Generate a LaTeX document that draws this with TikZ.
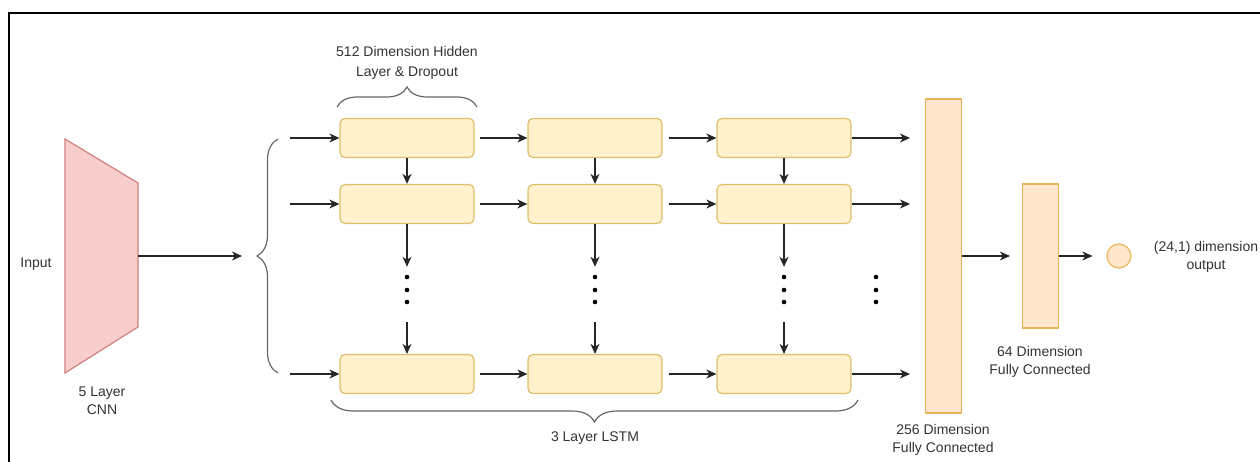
\documentclass[tikz,border=0pt]{standalone}
\usepackage{fontspec}
\setmainfont{Liberation Sans}
\usetikzlibrary{arrows.meta,positioning,decorations.pathreplacing}
\definecolor{cellfill}{HTML}{FFF2CC}
\definecolor{celldraw}{HTML}{DDBE6A}
\definecolor{fcfill}{HTML}{FFE6CC}
\definecolor{fcdraw}{HTML}{E8B455}
\definecolor{cnnfill}{HTML}{F8CECC}
\definecolor{cnndraw}{HTML}{D08080}
\definecolor{txt}{HTML}{333333}

\tikzset{
  lstmcell/.style={draw=celldraw,fill=cellfill,rounded corners=5pt,line width=1.2pt,minimum width=134pt,minimum height=39pt,inner sep=0pt},
  fcbox/.style={draw=fcdraw,fill=fcfill,line width=1.2pt,minimum width=36pt,inner sep=0pt},
  lbl/.style={text=txt,font=\fontsize{14}{18}\selectfont,align=center,inner sep=0pt},
  flow/.style={-{Stealth[length=10pt,width=9pt,inset=3pt]},line width=1.2pt,draw=black!85},
  curly/.style={decorate,decoration={brace,amplitude=#1},draw=black!60,line width=1.2pt},
  dotstack/.style={minimum width=4pt,minimum height=55pt,inner sep=0pt}
}

\begin{document}
\begin{tikzpicture}[x=1pt,y=-1pt]
  \useasboundingbox (0,0) rectangle (1260,462);
  \draw[line width=2pt] (9,462) -- (9,13) -- (1260,13);

  % cnn part
  \draw[draw=cnndraw,fill=cnnfill,line width=1.2pt] (65,139) -- (138,183) -- (138,327) -- (65,373) -- cycle;
  \coordinate (cnnout) at (138,256);
  \coordinate (split) at (242,256);
  \node[lbl] (input) at (36,264) {Input};
  \node[lbl] (cnnlbl) at (102,401) {5 Layer\\CNN};
  \draw[flow] (cnnout) -- (split);
  \draw[curly=21pt] (278,373) -- (278,139);

  % lstm cells
  \foreach \c/\x in {1/407,2/595,3/784}{
    \node[lstmcell] (cell1\c) at (\x,138) {};
    \node[lstmcell] (cell2\c) at (\x,204) {};
    \node[lstmcell] (cell3\c) at (\x,374) {};
    \node[dotstack] (dots\c) at (\x,294.5) {};
    \fill (\x,277) circle (2.3pt) (\x,290) circle (2.3pt) (\x,302) circle (2.3pt);
    \draw[flow] (cell1\c) -- (cell2\c);
    \draw[flow] (cell2\c) -- (dots\c);
    \draw[flow] (dots\c) -- (cell3\c);
  }
  \node[dotstack] (dots4) at (876,294.5) {};
  \fill (876,277) circle (2.3pt) (876,290) circle (2.3pt) (876,302) circle (2.3pt);

  \foreach \r/\y in {1/138,2/204,3/374}{
    \coordinate (in\r) at (290,\y);
    \coordinate (out\r) at (910,\y);
    \draw[flow] (in\r) -- (cell\r1);
    \draw[flow,shorten <=5pt] (cell\r1) -- (cell\r2);
    \draw[flow,shorten <=6pt] (cell\r2) -- (cell\r3);
    \draw[flow] (cell\r3) -- (out\r);
  }

  \draw[curly=20pt] (337,107) -- (477,107);
  \node[lbl] (hidlbl) at (407,63) {512 Dimension Hidden\\[2pt]Layer \& Dropout};
  \draw[curly=22pt] (858,400) -- (331,400);
  \node[lbl] (lstmlbl) at (595,438) {3 Layer LSTM};

  % fully connected part
  \node[fcbox,minimum height=314pt] (fc256) at (943.5,256) {};
  \node[fcbox,minimum height=144pt] (fc64) at (1040.5,256) {};
  \node[draw=fcdraw,fill=fcfill,circle,minimum size=24pt,inner sep=0pt,line width=1.2pt] (outc) at (1119,256) {};
  \draw[flow,shorten >=12pt] (fc256) -- (fc64);
  \draw[flow,shorten >=14pt] (fc64) -- (outc);
  \node[lbl] (fc256lbl) at (943,440) {256 Dimension\\Fully Connected};
  \node[lbl] (fc64lbl) at (1040,362) {64 Dimension\\Fully Connected};
  \node[lbl] (outlbl) at (1206,257) {(24,1) dimension\\output};
\end{tikzpicture}
\end{document}
